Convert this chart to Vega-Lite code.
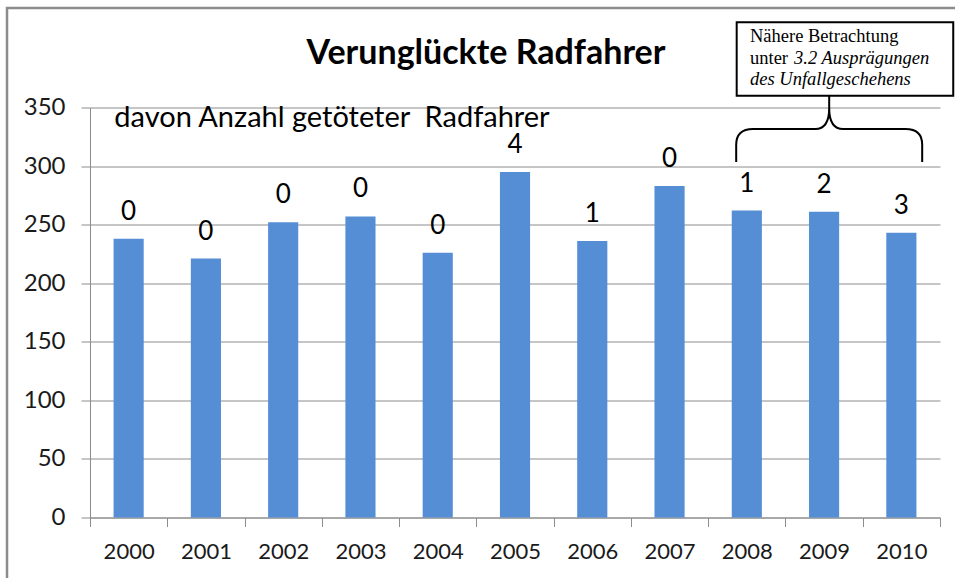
{
  "$schema": "https://vega.github.io/schema/vega-lite/v6.json",
  "width": 850,
  "height": 410,
  "autosize": {"type": "none"},
  "padding": {"left": 90, "top": 107.5, "right": 15, "bottom": 60.5},
  "background": "white",
  "config": {"view": {"stroke": null}, "font": "Lato"},
  "datasets": {
    "radfahrer": [
      {"Jahr": "2000", "Verunglueckte": 238, "Getoetete": 0},
      {"Jahr": "2001", "Verunglueckte": 221, "Getoetete": 0},
      {"Jahr": "2002", "Verunglueckte": 252, "Getoetete": 0},
      {"Jahr": "2003", "Verunglueckte": 257, "Getoetete": 0},
      {"Jahr": "2004", "Verunglueckte": 226, "Getoetete": 0},
      {"Jahr": "2005", "Verunglueckte": 295, "Getoetete": 4},
      {"Jahr": "2006", "Verunglueckte": 236, "Getoetete": 1},
      {"Jahr": "2007", "Verunglueckte": 283, "Getoetete": 0},
      {"Jahr": "2008", "Verunglueckte": 262, "Getoetete": 1},
      {"Jahr": "2009", "Verunglueckte": 261, "Getoetete": 2},
      {"Jahr": "2010", "Verunglueckte": 243, "Getoetete": 3}
    ],
    "one": [{}]
  },
  "layer": [
    {
      "data": {"name": "radfahrer"},
      "mark": {"type": "bar", "color": "#558ED5", "width": {"band": 0.39}},
      "encoding": {
        "x": {
          "field": "Jahr", "type": "nominal",
          "scale": {"paddingInner": 0, "paddingOuter": 0},
          "axis": {
            "title": null, "labelAngle": 0, "tickBand": "extent", "tickSize": 9,
            "labelFontSize": 22, "labelPadding": 15, "labelColor": "#1a1a1a",
            "domainColor": "#8c8c8c", "tickColor": "#8c8c8c", "grid": false
          }
        },
        "y": {
          "field": "Verunglueckte", "type": "quantitative",
          "scale": {"domain": [0, 350], "nice": false},
          "axis": {
            "title": null, "values": [0, 50, 100, 150, 200, 250, 300, 350],
            "grid": true, "gridColor": "#8c8c8c", "domainColor": "#8c8c8c", "tickColor": "#8c8c8c",
            "tickSize": 9, "labelFontSize": 24, "labelPadding": 16, "labelColor": "#1a1a1a"
          }
        }
      }
    },
    {
      "data": {"name": "one"},
      "mark": {"type": "rect", "fill": null, "stroke": "#8c8c8c", "strokeWidth": 2.5},
      "encoding": {
        "x": {"datum": -1.074, "type": "quantitative", "scale": {"domain": [0, 11], "nice": false, "zero": false}, "axis": null},
        "x2": {"datum": 11.3},
        "y": {"datum": 434.9, "type": "quantitative", "scale": {"domain": [0, 350], "nice": false}},
        "y2": {"datum": -80}
      }
    },
    {
      "data": {"name": "radfahrer"},
      "mark": {"type": "text", "fontSize": 26, "baseline": "alphabetic", "dy": -19, "color": "#000"},
      "encoding": {
        "x": {"field": "Jahr", "type": "nominal", "scale": {"paddingInner": 0, "paddingOuter": 0}, "axis": null},
        "y": {"field": "Verunglueckte", "type": "quantitative", "scale": {"domain": [0, 350], "nice": false}},
        "text": {"field": "Getoetete", "type": "quantitative"}
      }
    },
    {
      "data": {"name": "one"},
      "mark": {"type": "text", "fontSize": 34, "fontWeight": "bold", "align": "center", "baseline": "alphabetic", "color": "#000"},
      "encoding": {
        "x": {"datum": 5.1247, "type": "quantitative", "scale": {"domain": [0, 11], "nice": false, "zero": false}, "axis": null},
        "y": {"datum": 387.1, "type": "quantitative", "scale": {"domain": [0, 350], "nice": false}},
        "text": {"value": "Verunglückte Radfahrer"}
      }
    },
    {
      "data": {"name": "one"},
      "mark": {"type": "text", "fontSize": 29, "align": "left", "baseline": "alphabetic", "color": "#000"},
      "encoding": {
        "x": {"datum": 0.3145, "type": "quantitative", "scale": {"domain": [0, 11], "nice": false, "zero": false}, "axis": null},
        "y": {"datum": 333.3, "type": "quantitative", "scale": {"domain": [0, 350], "nice": false}},
        "text": {"value": "davon Anzahl getöteter\u00a0 Radfahrer"}
      }
    },
    {
      "data": {"name": "one"},
      "mark": {"type": "rect", "fill": "white", "stroke": "#000", "strokeWidth": 2},
      "encoding": {
        "x": {"datum": 8.3689, "type": "quantitative", "scale": {"domain": [0, 11], "nice": false, "zero": false}, "axis": null},
        "x2": {"datum": 11.1714},
        "y": {"datum": 422.7, "type": "quantitative", "scale": {"domain": [0, 350], "nice": false}},
        "y2": {"datum": 360.1}
      }
    },
    {
      "data": {"name": "one"},
      "mark": {"type": "text", "font": "Liberation Serif", "fontSize": 18.5, "align": "left", "baseline": "alphabetic", "color": "#000"},
      "encoding": {
        "x": {"datum": 8.5412, "type": "quantitative", "scale": {"domain": [0, 11], "nice": false, "zero": false}, "axis": null},
        "y": {"datum": 405.7, "type": "quantitative", "scale": {"domain": [0, 350], "nice": false}},
        "text": {"value": "Nähere Betrachtung"}
      }
    },
    {
      "data": {"name": "one"},
      "mark": {"type": "text", "font": "Liberation Serif", "fontSize": 18.5, "align": "left", "baseline": "alphabetic", "color": "#000"},
      "encoding": {
        "x": {"datum": 8.5412, "type": "quantitative", "scale": {"domain": [0, 11], "nice": false, "zero": false}, "axis": null},
        "y": {"datum": 387.1, "type": "quantitative", "scale": {"domain": [0, 350], "nice": false}},
        "text": {"value": "unter"}
      }
    },
    {
      "data": {"name": "one"},
      "mark": {"type": "text", "font": "Liberation Serif", "fontStyle": "italic", "fontSize": 18.5, "align": "left", "baseline": "alphabetic", "color": "#000"},
      "encoding": {
        "x": {"datum": 9.1106, "type": "quantitative", "scale": {"domain": [0, 11], "nice": false, "zero": false}, "axis": null},
        "y": {"datum": 387.1, "type": "quantitative", "scale": {"domain": [0, 350], "nice": false}},
        "text": {"value": "3.2 Ausprägungen"}
      }
    },
    {
      "data": {"name": "one"},
      "mark": {"type": "text", "font": "Liberation Serif", "fontStyle": "italic", "fontSize": 18.5, "align": "left", "baseline": "alphabetic", "color": "#000"},
      "encoding": {
        "x": {"datum": 8.5412, "type": "quantitative", "scale": {"domain": [0, 11], "nice": false, "zero": false}, "axis": null},
        "y": {"datum": 369.2, "type": "quantitative", "scale": {"domain": [0, 350], "nice": false}},
        "text": {"value": "des Unfallgeschehens"}
      }
    },
    {
      "data": {"name": "one"},
      "mark": {
        "type": "point", "filled": false, "fill": null, "stroke": "#000", "strokeWidth": 2, "opacity": 1,
        "shape": "M -1 0.355 L -1 0.17 Q -1 0 -0.82 0 L -0.15 0 Q 0 0 0 -0.226 L 0 -0.355 M 0 -0.226 Q 0 0 0.15 0 L 0.82 0 Q 1 0 1 0.17 L 1 0.355",
        "size": 34596
      },
      "encoding": {
        "x": {"datum": 9.566, "type": "quantitative", "scale": {"domain": [0, 11], "nice": false, "zero": false}, "axis": null},
        "y": {"datum": 331.6, "type": "quantitative", "scale": {"domain": [0, 350], "nice": false}}
      }
    }
  ],
  "resolve": {"scale": {"x": "independent"}, "axis": {"x": "independent"}}
}
